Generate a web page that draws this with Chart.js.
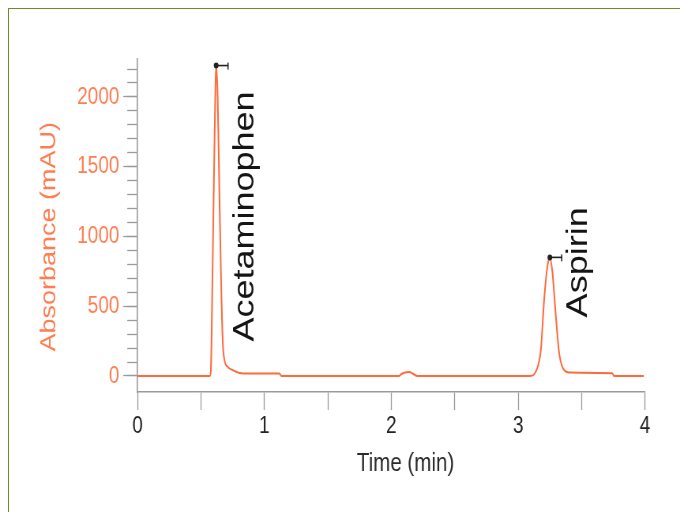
<!DOCTYPE html>
<html>
<head>
<meta charset="utf-8">
<script src="https://cdn.jsdelivr.net/npm/chart.js@4.4.1/dist/chart.umd.min.js"></script>
<style>
  html, body { margin: 0; padding: 0; background: #ffffff; width: 680px; height: 512px; overflow: hidden; }
  #frame { position: absolute; left: 8px; top: 8px; width: 700px; height: 520px;
           border-top: 1.5px solid #6b8f25; border-left: 1.5px solid #6b8f25; }
  #wrap { position: absolute; left: 0; top: 0; width: 861px; height: 512px;
          transform: scaleX(0.7898); transform-origin: 0 0; }
  canvas { display: block; }
</style>
</head>
<body>
<div id="frame"></div>
<div id="wrap"><canvas id="c" width="861" height="512" style="width:861px;height:512px"></canvas></div>
<script>
// ---- data ----
const times = [0.00, 0.570, 0.578, 0.590, 0.606, 0.620, 0.632, 0.646, 0.659, 0.672, 0.685, 0.711, 0.748, 0.803, 0.882,
               1.118, 1.134, 2.063, 2.079, 2.142, 2.173, 2.205, 3.095, 3.139, 3.179, 3.205, 3.231, 3.250, 3.270,
               3.297, 3.323, 3.362, 3.415, 3.740, 3.756, 3.990];
const absorbance = [0, 0, 40, 670, 1630, 2225, 1990, 1270, 670, 240, 115, 65, 43, 22, 18,
                    18, 0, 0, 14, 29, 14, 0, 0, 31, 188, 549, 789, 850, 744,
                    428, 166, 43, 24, 20, 0, 0];
const peakNames = ['Acetaminophen', 'Aspirin'];
const peakTimes = [0.620, 3.250];
const peakHeights = [2225, 850];
const xTickValues = [0, 0.5, 1, 1.5, 2, 2.5, 3, 3.5, 4];
const yMajorTicks = [0, 500, 1000, 1500, 2000];
const yMinorTicks = [0, 100, 200, 300, 400, 500, 600, 700, 800, 900, 1000, 1100, 1200, 1300, 1400, 1500,
                     1600, 1700, 1800, 1900, 2000, 2100, 2200];
const xTitle = 'Time (min)';
const yTitle = 'Absorbance (mAU)';

// ---- styling ----
const LINE = '#ff6a3a';
const ORANGE = '#ff7d50';
const AXIS = '#9a9a9a';
Chart.defaults.font.family = '"Liberation Sans", Arial, Helvetica, sans-serif';

const points = times.map((t, i) => ({ x: t, y: absorbance[i] }));

const peakPlugin = {
  id: 'peakLabels',
  afterDatasetsDraw(chart, args, opts) {
    const { ctx, scales: { x, y } } = chart;
    ctx.save();
    peakNames.forEach((name, i) => {
      const px = x.getPixelForValue(peakTimes[i]);
      const py = y.getPixelForValue(peakHeights[i]);
      ctx.strokeStyle = '#222';
      ctx.fillStyle = '#222';
      ctx.lineWidth = 1.6;
      ctx.beginPath(); ctx.moveTo(px, py); ctx.lineTo(px + 15, py); ctx.stroke();
      ctx.beginPath(); ctx.moveTo(px + 15, py - 3); ctx.lineTo(px + 15, py + 4); ctx.stroke();
      ctx.beginPath(); ctx.arc(px, py, 3, 0, Math.PI * 2); ctx.fill();
      const off = opts.offsets[i];
      ctx.save();
      ctx.translate(px + off[0], py + off[1]);
      ctx.rotate(-Math.PI / 2);
      ctx.font = '36px "Liberation Sans", Arial, sans-serif';
      ctx.fillStyle = '#141414';
      ctx.textAlign = 'left';
      ctx.textBaseline = 'alphabetic';
      ctx.fillText(name, 0, 0);
      ctx.restore();
    });
    ctx.restore();
  }
};

new Chart(document.getElementById('c'), {
  type: 'line',
  data: {
    datasets: [{
      data: points,
      borderColor: LINE,
      borderWidth: 2,
      pointRadius: 0,
      fill: false,
      cubicInterpolationMode: 'monotone',
      xAxisID: 'x',
      yAxisID: 'y'
    }]
  },
  options: {
    responsive: false,
    maintainAspectRatio: false,
    animation: false,
    devicePixelRatio: 1,
    layout: { padding: { left: 0, top: 59, right: 44.3, bottom: 0 } },
    plugins: {
      legend: { display: false },
      tooltip: { enabled: false },
      peakLabels: { offsets: [[47, 276], [47, 60]] }
    },
    scales: {
      x: {
        type: 'linear',
        position: 'bottom',
        min: 0, max: 4,
        afterFit: s => { s.height = 120; },
        afterBuildTicks: s => { s.ticks = xTickValues.map(v => ({ value: v })); },
        ticks: {
          autoSkip: false, maxRotation: 0, minRotation: 0,
          color: '#222', font: { size: 24 }, padding: 2,
          callback: v => (Number.isInteger(v) ? String(v) : '')
        },
        grid: { display: true, drawOnChartArea: false, drawTicks: true, tickLength: 18, color: AXIS, tickColor: AXIS, tickWidth: 1.3 },
        border: { display: true, color: AXIS, width: 1.5 },
        title: { display: true, text: '     ' + xTitle, color: '#2a2a2a', font: { size: 26 }, padding: { top: 0, bottom: 33 } }
      },
      y: {
        type: 'linear',
        position: 'left',
        weight: 1,
        min: -115, max: 2272,
        afterFit: s => { s.width = 174.1; },
        afterBuildTicks: s => { s.ticks = yMajorTicks.map(v => ({ value: v })); },
        ticks: { color: ORANGE, font: { size: 24 }, padding: 5, callback: v => String(v) },
        grid: { display: true, drawOnChartArea: false, drawTicks: true, tickLength: 18, color: AXIS, tickColor: AXIS, tickWidth: 1.3 },
        border: { display: true, color: AXIS, width: 1.6 },
        title: { display: true, text: yTitle + '   ', color: ORANGE, font: { size: 27 }, padding: { top: 46, bottom: 0 } }
      },
      yMinor: {
        type: 'linear',
        position: 'left',
        weight: 0,
        min: -115, max: 2272,
        afterFit: s => { s.width = 0; },
        afterBuildTicks: s => { s.ticks = yMinorTicks.map(v => ({ value: v })); },
        ticks: { display: false },
        grid: { display: true, drawOnChartArea: false, drawTicks: true, tickLength: 13, color: AXIS, tickColor: AXIS, tickWidth: 1.3 },
        border: { display: false }
      }
    }
  },
  plugins: [peakPlugin]
});
</script>
</body>
</html>
